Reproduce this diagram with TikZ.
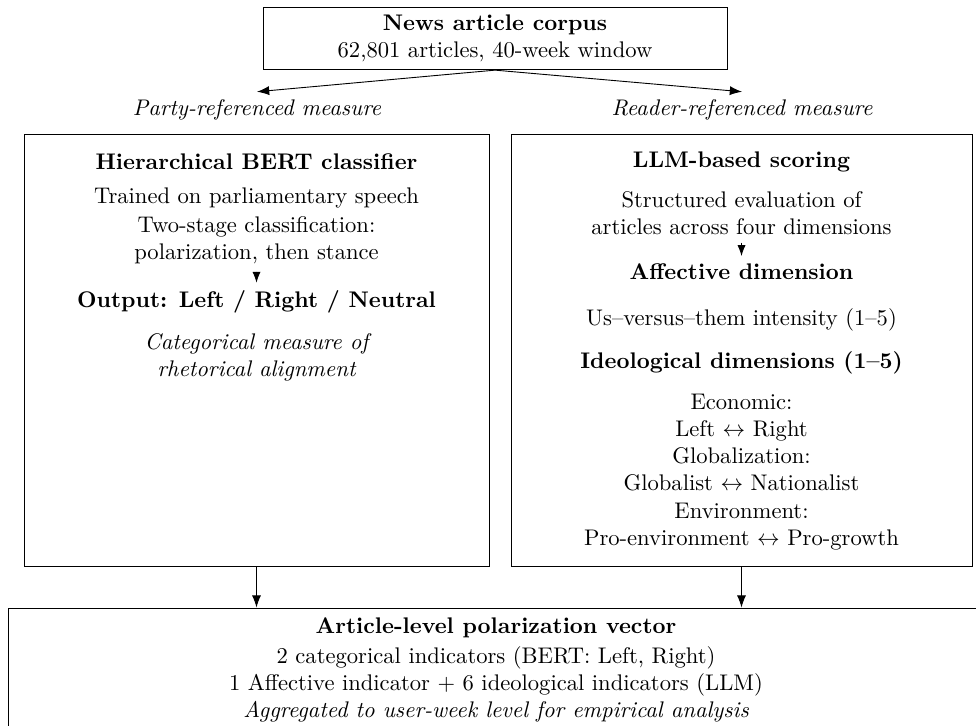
\documentclass[tikz,border=0pt]{standalone}
\usepackage{tikz}
\usetikzlibrary{arrows.meta, fit}
\usetikzlibrary{positioning}
\usepackage{amsmath}
\usepackage{amssymb}

\begin{document}
\begin{tikzpicture}[x=0.4425pt, y=-0.4425pt, >={Latex[length=5.4pt, width=4pt]},
    every node/.style={align=center},
    box/.style={draw, inner sep=0pt},
    note/.style={font=\itshape},
    small tip/.style={-{Latex}}]
		\useasboundingbox (0,0) rectangle (976,725);

		% corpus
		\node[draw, anchor=north, minimum width=205.3pt] (corpus) at (495,7)
			{\textbf{News article corpus}\\62,801 articles, 40-week window};
		\node[note] (party) at (257,110) {Party-referenced measure};
		\node[note] (reader) at (742,110) {Reader-referenced measure};
		\draw[->] (corpus.south) -- (party.north);
		\draw[->] (corpus.south) -- (reader.north);

		% BERT branch
		\node[box, fit={(24,134) (489,566)}] (bert) {};
		\node[font=\bfseries] (bhead) at (256.5,162) {Hierarchical BERT classifier};
		\node (trained) at (256.5,198) {Trained on parliamentary speech};
		\node (stance) at (256.5,240) {Two-stage classification:\\polarization, then stance};
		\node[font=\bfseries] (output) at (256.5,302) {Output: Left / Right / Neutral};
		\node[note] (categ) at (256.5,357) {Categorical measure of\\rhetorical alignment};
		\draw[small tip] (stance.south) -- (output.north);

		% LLM branch
		\node[box, fit={(511,134) (972,566)}] (llm) {};
		\node[font=\bfseries] (lhead) at (741.5,162) {LLM-based scoring};
		\node (struct) at (741.5,213) {Structured evaluation of\\articles across four dimensions};
		\node[font=\bfseries] (affect) at (741.5,272) {Affective dimension};
		\node (usthem) at (741.5,320) {Us--versus--them intensity (1--5)};
		\node[font=\bfseries] (ideo) at (741.5,363) {Ideological dimensions (1--5)};
		\node (axes) at (741.5,472) {Economic:\\Left $\leftrightarrow$ Right\\Globalization:\\Globalist $\leftrightarrow$ Nationalist\\Environment:\\Pro-environment $\leftrightarrow$ Pro-growth};
		\draw[small tip] (struct.south) -- (affect.north);

		% vector
		\node[box, fit={(8,608) (984,760)}] (vector) {};
		\node[font=\bfseries] (vhead) at (496,628) {Article-level polarization vector};
		\node (vlines) at (496,671) {2 categorical indicators (BERT: Left, Right)\\1 Affective indicator + 6 ideological indicators (LLM)};
		\node[note] (aggr) at (496,712) {Aggregated to user-week level for empirical analysis};
		\draw[->] (bert.south) -- (bert.south |- vector.north);
		\draw[->] (llm.south) -- (llm.south |- vector.north);
	\end{tikzpicture}
\end{document}
